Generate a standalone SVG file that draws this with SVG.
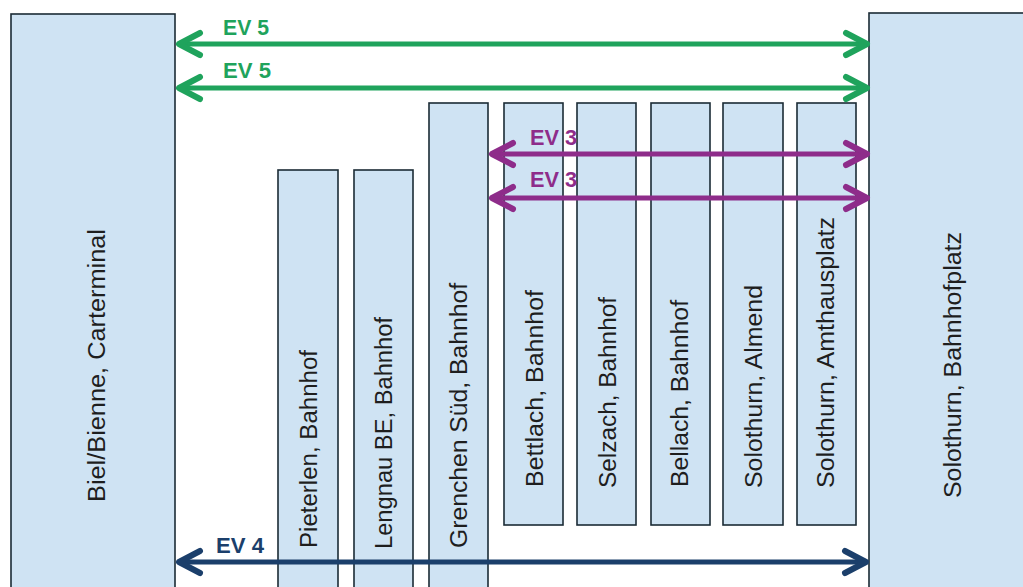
<svg xmlns="http://www.w3.org/2000/svg" width="1023" height="587" viewBox="0 0 1023 587">
<style>
.box{fill:#cfe3f3;stroke:#1b2b35;stroke-width:1.6}
.lbl{font-family:"Liberation Sans",Arial,sans-serif;font-size:23px;fill:#1e1e1e}
.ev{font-family:"Liberation Sans",Arial,sans-serif;font-size:22px;font-weight:bold}
.g{stroke:#1fa35c;fill:none;stroke-width:5}
.p{stroke:#8e2c8a;fill:none;stroke-width:5}
.n{stroke:#1b3f6b;fill:none;stroke-width:5}
</style>
<defs>
<marker id="mg" markerUnits="userSpaceOnUse" orient="auto-start-reverse" refX="0" refY="0" markerWidth="40" markerHeight="40" overflow="visible"><path d="M-21,-11 L0,0 L-21,11" fill="none" stroke="#1fa35c" stroke-width="6" stroke-linecap="round" stroke-linejoin="round"/></marker>
<marker id="mp" markerUnits="userSpaceOnUse" orient="auto-start-reverse" refX="0" refY="0" markerWidth="40" markerHeight="40" overflow="visible"><path d="M-21,-11 L0,0 L-21,11" fill="none" stroke="#8e2c8a" stroke-width="6" stroke-linecap="round" stroke-linejoin="round"/></marker>
<marker id="mn" markerUnits="userSpaceOnUse" orient="auto-start-reverse" refX="0" refY="0" markerWidth="40" markerHeight="40" overflow="visible"><path d="M-21,-11 L0,0 L-21,11" fill="none" stroke="#1b3f6b" stroke-width="6" stroke-linecap="round" stroke-linejoin="round"/></marker>
</defs>
<rect width="1023" height="587" fill="#ffffff"/>
<g id="biel"><rect class="box" x="11" y="14" width="164" height="590"/><text class="lbl" transform="translate(105,502) rotate(-90)" textLength="273" lengthAdjust="spacingAndGlyphs">Biel/Bienne, Carterminal</text></g>
<g id="solothurn-bahnhofplatz"><rect class="box" x="869" y="13" width="170" height="590"/><text class="lbl" transform="translate(961,498) rotate(-90)" textLength="266" lengthAdjust="spacingAndGlyphs">Solothurn, Bahnhofplatz</text></g>
<g id="pieterlen"><rect class="box" x="278" y="170" width="60" height="430"/><text class="lbl" transform="translate(317,548) rotate(-90)" textLength="198" lengthAdjust="spacingAndGlyphs">Pieterlen, Bahnhof</text></g>
<g id="lengnau"><rect class="box" x="354" y="170" width="59" height="430"/><text class="lbl" transform="translate(392,549) rotate(-90)" textLength="232" lengthAdjust="spacingAndGlyphs">Lengnau BE, Bahnhof</text></g>
<g id="grenchen"><rect class="box" x="429" y="103" width="59" height="500"/><text class="lbl" transform="translate(467,548) rotate(-90)" textLength="265" lengthAdjust="spacingAndGlyphs">Grenchen Süd, Bahnhof</text></g>
<g id="bettlach"><rect class="box" x="504" y="103" width="59" height="422"/><text class="lbl" transform="translate(543,487) rotate(-90)" textLength="197" lengthAdjust="spacingAndGlyphs">Bettlach, Bahnhof</text></g>
<g id="selzach"><rect class="box" x="577" y="103" width="59" height="422"/><text class="lbl" transform="translate(616,488) rotate(-90)" textLength="191" lengthAdjust="spacingAndGlyphs">Selzach, Bahnhof</text></g>
<g id="bellach"><rect class="box" x="651" y="103" width="59" height="422"/><text class="lbl" transform="translate(688,487) rotate(-90)" textLength="187" lengthAdjust="spacingAndGlyphs">Bellach, Bahnhof</text></g>
<g id="almend"><rect class="box" x="723" y="103" width="60" height="422"/><text class="lbl" transform="translate(762,488) rotate(-90)" textLength="203" lengthAdjust="spacingAndGlyphs">Solothurn, Almend</text></g>
<g id="amthausplatz"><rect class="box" x="797" y="103" width="59" height="422"/><text class="lbl" transform="translate(834,488) rotate(-90)" textLength="271" lengthAdjust="spacingAndGlyphs">Solothurn, Amthausplatz</text></g>
<g id="connectors">
<line class="g" x1="179" y1="44" x2="867" y2="44" marker-start="url(#mg)" marker-end="url(#mg)"/>
<line class="g" x1="179" y1="88" x2="867" y2="88" marker-start="url(#mg)" marker-end="url(#mg)"/>
<line class="p" x1="492" y1="154" x2="867" y2="154" marker-start="url(#mp)" marker-end="url(#mp)"/>
<line class="p" x1="492" y1="198" x2="867" y2="198" marker-start="url(#mp)" marker-end="url(#mp)"/>
<line class="n" x1="179" y1="562" x2="866" y2="562" marker-start="url(#mn)" marker-end="url(#mn)"/>
<text class="ev" x="223" y="35" fill="#1fa35c" textLength="46" lengthAdjust="spacingAndGlyphs">EV 5</text>
<text class="ev" x="223" y="78" fill="#1fa35c" textLength="48" lengthAdjust="spacingAndGlyphs">EV 5</text>
<text class="ev" x="530" y="145" fill="#8e2c8a" textLength="47" lengthAdjust="spacingAndGlyphs">EV 3</text>
<text class="ev" x="530" y="187" fill="#8e2c8a" textLength="47" lengthAdjust="spacingAndGlyphs">EV 3</text>
<text class="ev" x="216" y="553" fill="#1b3f6b" textLength="48" lengthAdjust="spacingAndGlyphs">EV 4</text>
</g>
</svg>
